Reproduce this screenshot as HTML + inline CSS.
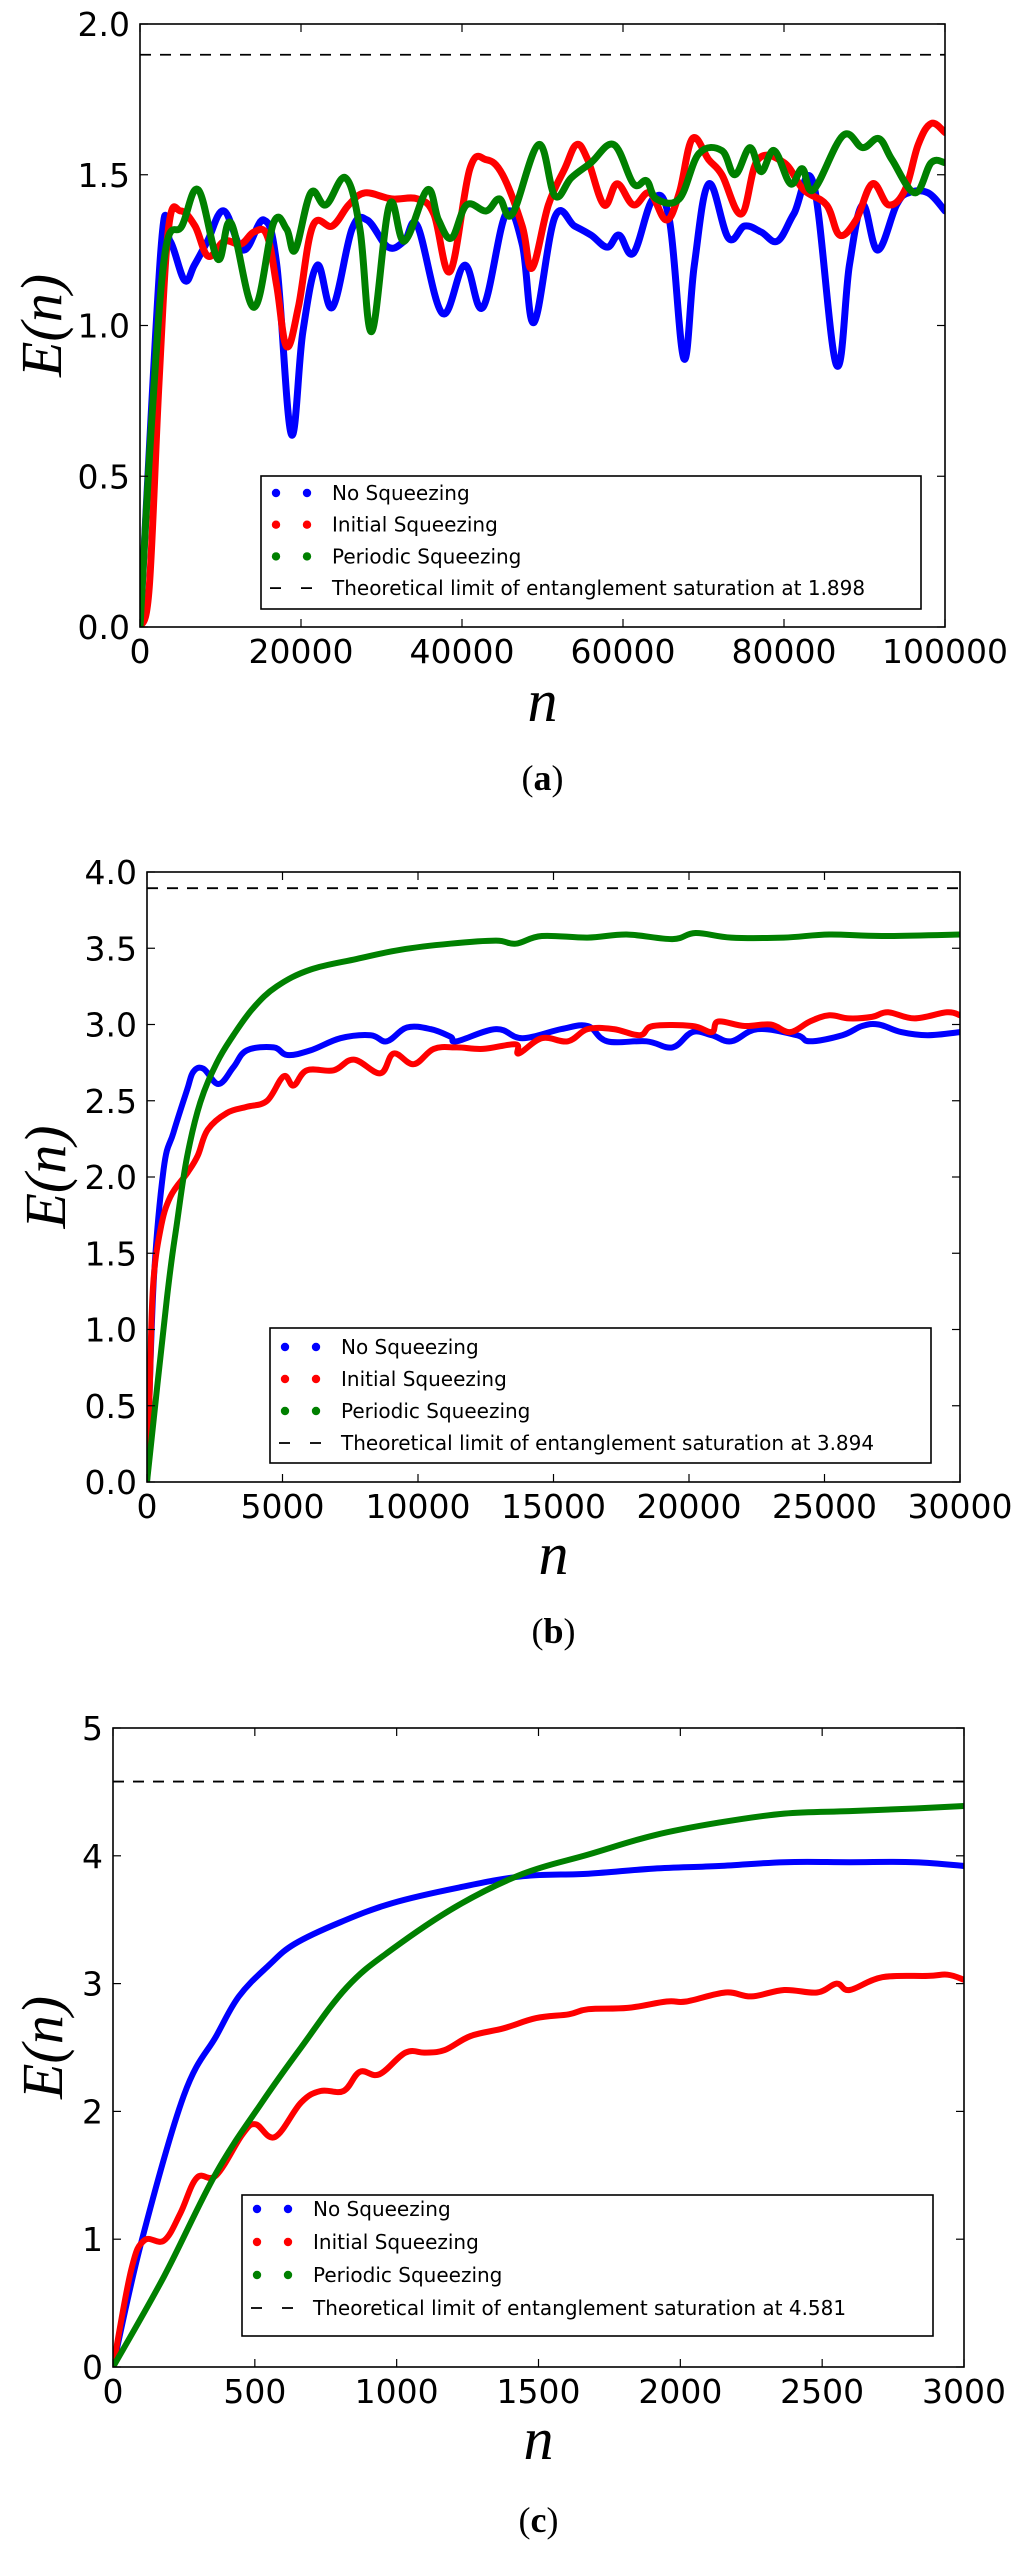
<!DOCTYPE html>
<html><head><meta charset="utf-8"><style>
body{margin:0;background:#fff;}
svg{display:block;}
text{font-family:"DejaVu Sans","Liberation Sans",sans-serif;}
</style></head><body>
<svg id="fig" width="1024" height="2551" viewBox="0 0 1024 2551" xmlns="http://www.w3.org/2000/svg"></svg>
<script>
// ---- Panel (a) data ----
const aBlueN=[0,2600,3740,5530,6750,8390,10410,12850,15370,16990,18780,20240,22030,23900,26340,28210,30810,32850,34470,37560,40330,42600,45450,47480,48940,51540,53980,56020,58050,59510,61300,63740,65770,67560,68860,70650,73090,75120,77150,79190,81220,83660,86500,88130,89760,91630,93980,95450,97890,100000];
const aBlueE=[0,1.25,1.28,1.15,1.2,1.28,1.38,1.25,1.35,1.2,0.64,0.98,1.2,1.06,1.32,1.35,1.26,1.28,1.33,1.04,1.2,1.06,1.37,1.27,1.01,1.36,1.33,1.3,1.26,1.3,1.24,1.42,1.35,0.89,1.2,1.47,1.29,1.33,1.31,1.28,1.37,1.47,0.87,1.2,1.4,1.25,1.4,1.44,1.44,1.38];
const aRedN=[0,1140,2360,3580,5040,6830,8460,10490,12520,14150,15770,16990,18210,19670,21460,23900,25930,27970,31220,34470,36500,38540,40980,43010,45040,47480,48700,50730,52760,54230,55610,57640,59270,61300,63330,65370,66990,68620,70650,72280,74720,76750,80000,82440,85280,86910,88940,90980,93010,95040,96670,98290,100000];
const aRedE=[0,0.13,0.81,1.33,1.38,1.33,1.23,1.28,1.27,1.31,1.3,1.13,0.93,1.06,1.33,1.33,1.4,1.44,1.42,1.42,1.37,1.18,1.52,1.55,1.5,1.33,1.19,1.4,1.52,1.6,1.55,1.4,1.47,1.4,1.44,1.35,1.44,1.62,1.55,1.5,1.37,1.55,1.54,1.45,1.4,1.3,1.35,1.47,1.4,1.45,1.6,1.67,1.64];
const aGreenN=[0,1540,3170,5200,7240,9670,11300,14150,16590,18210,19270,21220,23090,25530,27320,28780,30980,32850,35690,37080,38700,40570,43010,44640,46260,49510,51540,53580,56020,58860,61300,62930,64150,66990,69430,72280,73900,75770,77150,78780,80810,82280,83660,87320,89760,91790,93420,96260,98290,100000];
const aGreenE=[0,0.72,1.25,1.33,1.45,1.22,1.34,1.06,1.34,1.32,1.25,1.44,1.4,1.49,1.32,0.98,1.4,1.28,1.45,1.35,1.29,1.4,1.38,1.42,1.37,1.6,1.43,1.49,1.54,1.6,1.47,1.48,1.42,1.42,1.57,1.58,1.5,1.59,1.51,1.58,1.47,1.52,1.45,1.63,1.59,1.62,1.55,1.44,1.54,1.54];
const aXTicks=[0,20000,40000,60000,80000,100000];
const aYTicks=[0,0.5,1.0,1.5,2.0];
const aYTickLabels=["0.0","0.5","1.0","1.5","2.0"];
const aLimit=1.898;

// ---- Panel (b) data ----
const bBlueN=[0,245,613,975,1476,1710,2080,2640,3190,3680,4670,5180,6030,7140,8250,8850,9590,10460,11200,11430,12880,13850,15290,16260,16980,18430,19390,20120,20840,21560,22530,23980,24460,25660,26390,27000,27830,28800,30000];
const bBlueE=[0,1.3,2.05,2.29,2.57,2.69,2.71,2.61,2.72,2.83,2.85,2.8,2.83,2.91,2.93,2.89,2.98,2.97,2.92,2.89,2.97,2.91,2.97,2.99,2.89,2.89,2.85,2.95,2.93,2.89,2.97,2.93,2.89,2.93,2.99,3.0,2.95,2.93,2.95];
const bRedN=[0,100,217,490,860,1500,1870,2240,2950,3690,4430,5040,5410,5900,6890,7630,8610,9100,9840,10580,11430,12400,13600,13720,14570,15530,16260,17220,18190,18670,20120,20840,21080,22050,23010,23730,24460,25180,25900,26750,27350,28320,29520,30000];
const bRedE=[0,0.6,1.27,1.65,1.87,2.03,2.14,2.31,2.42,2.46,2.5,2.66,2.6,2.7,2.7,2.77,2.68,2.81,2.74,2.84,2.85,2.84,2.87,2.81,2.91,2.89,2.97,2.97,2.93,2.99,2.99,2.95,3.02,2.99,3.0,2.95,3.02,3.06,3.04,3.05,3.08,3.04,3.08,3.06];
const bGreenN=[0,738,1107,1476,1967,2580,3190,3930,4790,6030,7740,9350,11190,12880,13600,14570,16260,17700,19390,20240,21560,23490,25180,27110,30000];
const bGreenE=[0,1.21,1.7,2.13,2.49,2.75,2.93,3.11,3.25,3.36,3.43,3.49,3.53,3.55,3.53,3.58,3.57,3.59,3.56,3.6,3.57,3.57,3.59,3.58,3.59];
const bXTicks=[0,5000,10000,15000,20000,25000,30000];
const bYTicks=[0,0.5,1,1.5,2,2.5,3,3.5,4];
const bYTickLabels=["0.0","0.5","1.0","1.5","2.0","2.5","3.0","3.5","4.0"];
const bLimit=3.894;

// ---- Panel (c) data ----
const cBlueN=[0,99,249,364,444,548,640,801,985,1215,1446,1676,1906,2136,2366,2597,2827,3000];
const cBlueE=[0,0.97,2.12,2.59,2.9,3.14,3.31,3.48,3.63,3.75,3.84,3.86,3.9,3.92,3.95,3.95,3.95,3.92];
const cRedN=[0,64,110,180,237,295,364,456,502,571,663,732,813,870,939,1031,1100,1169,1261,1377,1492,1607,1676,1814,1952,2021,2159,2251,2366,2482,2551,2597,2712,2873,2942,3000];
const cRedE=[0,0.76,0.99,0.99,1.2,1.48,1.5,1.82,1.9,1.8,2.07,2.16,2.16,2.31,2.29,2.46,2.46,2.48,2.59,2.65,2.73,2.76,2.8,2.81,2.86,2.86,2.93,2.9,2.95,2.93,3.0,2.95,3.05,3.06,3.07,3.03];
const cGreenN=[0,180,364,525,663,824,985,1215,1446,1676,1906,2136,2366,2597,2827,3000];
const cGreenE=[0,0.71,1.52,2.07,2.5,2.97,3.27,3.61,3.86,4.01,4.16,4.26,4.33,4.35,4.37,4.39];
const cXTicks=[0,500,1000,1500,2000,2500,3000];
const cYTicks=[0,1,2,3,4,5];
const cYTickLabels=["0","1","2","3","4","5"];
const cLimit=4.581;

const legendLabels=["No Squeezing","Initial Squeezing","Periodic Squeezing"];
const legendColors=["#0000ff","#ff0000","#008000"];

const NS="http://www.w3.org/2000/svg";
const svg=document.getElementById('fig');
function mk(tag,attrs,parent){const e=document.createElementNS(NS,tag);for(const k in attrs)e.setAttribute(k,attrs[k]);(parent||svg).appendChild(e);return e;}

function smoothPath(P){
  let d='M'+P[0][0].toFixed(1)+','+P[0][1].toFixed(1);
  const t=0.18;
  for(let i=0;i<P.length-1;i++){
    const p0=P[Math.max(0,i-1)],p1=P[i],p2=P[i+1],p3=P[Math.min(P.length-1,i+2)];
    const c1x=p1[0]+(p2[0]-p0[0])*t,c1y=p1[1]+(p2[1]-p0[1])*t;
    const c2x=p2[0]-(p3[0]-p1[0])*t,c2y=p2[1]-(p3[1]-p1[1])*t;
    d+=' C'+c1x.toFixed(1)+','+c1y.toFixed(1)+' '+c2x.toFixed(1)+','+c2y.toFixed(1)+' '+p2[0].toFixed(1)+','+p2[1].toFixed(1);
  }
  return d;
}

function panel(cfg){
  const g=mk('g',{});
  
  
  const {L,R,T,B,xmax,ymax}=cfg;
  const sx=v=>L+(v/xmax)*(R-L);
  const sy=v=>B-(v/ymax)*(B-T);
  const cp=mk('clipPath',{id:'clip'+cfg.id},g);
  mk('rect',{x:L,y:T,width:R-L,height:B-T},cp);
  const sg=mk('g',{'clip-path':'url(#clip'+cfg.id+')'},g);
  cfg.series.forEach((s,i)=>{
    const P=s.n.map((n,j)=>[sx(n),sy(s.e[j])]);
    const pl=mk('path',{d:smoothPath(P),fill:'none',stroke:legendColors[i],'stroke-width':cfg.lw,'stroke-linejoin':'round','stroke-linecap':'round'},sg);
    
    
  });
  const dl=mk('line',{x1:L,x2:R,y1:sy(cfg.limit),y2:sy(cfg.limit),stroke:'#000','stroke-width':1.8,'stroke-dasharray':'11,9'},g);
  
  
  const fr=mk('rect',{x:L,y:T,width:R-L,height:B-T,fill:'none',stroke:'#000','stroke-width':1.6},g);
  
  
  cfg.xticks.forEach(v=>{
    const x=sx(v);
    mk('line',{x1:x,x2:x,y1:B,y2:B-8,stroke:'#000','stroke-width':1.2},g);
    mk('line',{x1:x,x2:x,y1:T,y2:T+8,stroke:'#000','stroke-width':1.2},g);
    const t=mk('text',{x:x,y:B+36,'font-size':33,'text-anchor':'middle'},g);
    t.textContent=String(v);
    
    
  });
  cfg.yticks.forEach((v,i)=>{
    const y=sy(v);
    mk('line',{x1:L,x2:L+8,y1:y,y2:y,stroke:'#000','stroke-width':1.2},g);
    mk('line',{x1:R,x2:R-8,y1:y,y2:y,stroke:'#000','stroke-width':1.2},g);
    const t=mk('text',{x:L-10,y:y+12,'font-size':33,'text-anchor':'end'},g);
    t.textContent=cfg.ylabels[i];
    
    
  });
  const yt=mk('text',{x:0,y:0,'font-size':58,'font-style':'italic','text-anchor':'middle',style:'font-family:"Liberation Serif",serif',transform:'translate('+(cfg.ylx+20)+','+((T+B)/2)+') rotate(-90)'},g);
  yt.textContent='E(n)';
  
  
  const xt=mk('text',{x:(L+R)/2,y:cfg.nY+14,'font-size':60,'font-style':'italic','text-anchor':'middle',style:'font-family:"Liberation Serif",serif'},g);
  xt.textContent='n';
  
  
  const cap=mk('text',{x:(L+R)/2,y:cfg.capY+12,'font-size':36,'text-anchor':'middle',style:'font-family:"Liberation Serif",serif'},g);
  cap.innerHTML='(<tspan font-weight="bold">'+cfg.id+'</tspan>)';
  
  
  const lg=mk('g',{},g);
  
  
  mk('rect',{x:cfg.lg[0],y:cfg.lg[2],width:cfg.lg[1]-cfg.lg[0],height:cfg.lg[3]-cfg.lg[2],fill:'#fff',stroke:'#000','stroke-width':1.6},lg);
  const labels=legendLabels.concat(['Theoretical limit of entanglement saturation at '+cfg.limit.toFixed(3)]);
  labels.forEach((lab,i)=>{
    const y=cfg.lg[4]+i*cfg.lg[5];
    const x0=cfg.lg[0];
    if(i<3){
      mk('circle',{cx:x0+15,cy:y,r:4.2,fill:legendColors[i]},lg);
      mk('circle',{cx:x0+46,cy:y,r:4.2,fill:legendColors[i]},lg);
    } else {
      mk('line',{x1:x0+9,x2:x0+20,y1:y,y2:y,stroke:'#000','stroke-width':1.8},lg);
      mk('line',{x1:x0+40,x2:x0+51,y1:y,y2:y,stroke:'#000','stroke-width':1.8},lg);
    }
    const t=mk('text',{x:x0+71,y:y+7,'font-size':20},lg);
    t.textContent=lab;
    
    
  });
}

panel({id:'a',L:140,R:945,T:24,B:627,xmax:100000,ymax:2,lw:7,limit:aLimit,
  series:[{name:'no-squeezing',n:aBlueN,e:aBlueE},{name:'initial-squeezing',n:aRedN,e:aRedE},{name:'periodic-squeezing',n:aGreenN,e:aGreenE}],
  xticks:aXTicks,yticks:aYTicks,ylabels:aYTickLabels,ylx:41,nY:707,capY:778,
  lg:[261,921,476,609,493,31.7]});
panel({id:'b',L:147,R:960,T:872,B:1482,xmax:30000,ymax:4,lw:6,limit:bLimit,
  series:[{name:'no-squeezing',n:bBlueN,e:bBlueE},{name:'initial-squeezing',n:bRedN,e:bRedE},{name:'periodic-squeezing',n:bGreenN,e:bGreenE}],
  xticks:bXTicks,yticks:bYTicks,ylabels:bYTickLabels,ylx:45,nY:1560,capY:1631,
  lg:[270,931,1328,1463,1347,32]});
panel({id:'c',L:113,R:964,T:1728,B:2367,xmax:3000,ymax:5,lw:6,limit:cLimit,
  series:[{name:'no-squeezing',n:cBlueN,e:cBlueE},{name:'initial-squeezing',n:cRedN,e:cRedE},{name:'periodic-squeezing',n:cGreenN,e:cGreenE}],
  xticks:cXTicks,yticks:cYTicks,ylabels:cYTickLabels,ylx:42,nY:2445,capY:2520,
  lg:[242,933,2195,2336,2209,33]});
</script>
</body></html>
